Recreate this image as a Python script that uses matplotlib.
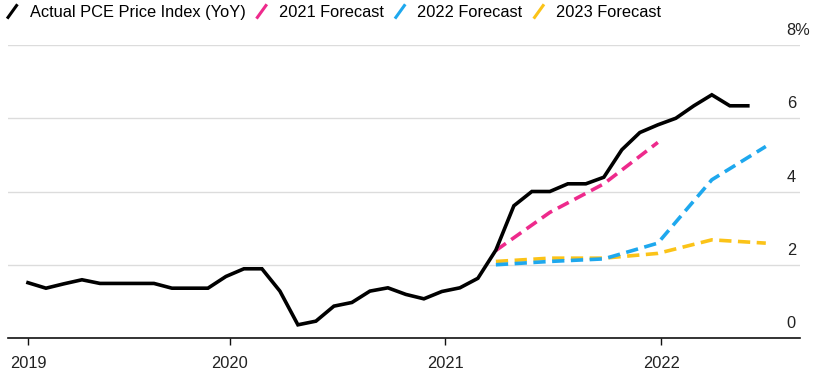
import numpy as np
import matplotlib
matplotlib.use('Agg')
import matplotlib.pyplot as plt
from matplotlib.lines import Line2D
from matplotlib.legend_handler import HandlerBase

plt.rcParams['font.family'] = ['Liberation Sans', 'DejaVu Sans']

# 月度索引：0 = 2019年1月
actual = [1.51, 1.36, 1.48, 1.59, 1.49, 1.49, 1.49, 1.49, 1.36, 1.36, 1.36, 1.68,
          1.89, 1.89, 1.28, 0.36, 0.46, 0.87, 0.97, 1.28, 1.37, 1.19, 1.07, 1.27,
          1.37, 1.63, 2.40, 3.61, 4.00, 4.00, 4.21, 4.21, 4.39, 5.14, 5.61, 5.82,
          6.00, 6.34, 6.64, 6.34, 6.34]
actual_x = np.arange(len(actual))

f2021_x = [26, 29, 32, 35]
f2021 = [2.39, 3.43, 4.21, 5.34]
f_x = [26, 29, 32, 35, 38, 41]
f2022 = [2.00, 2.09, 2.16, 2.59, 4.32, 5.23]
f2023 = [2.09, 2.18, 2.18, 2.31, 2.68, 2.59]

year_ticks = [0, 11.2, 23.2, 35.2]
year_labels = ['2019', '2020', '2021', '2022']
y_ticks = [0, 2, 4, 6, 8]
y_labels = ['0', '2', '4', '6', '8%']

black = '#000000'
pink = '#ee2a8c'
blue = '#1ea8ee'
yellow = '#fbc318'
fs = 11.8


class SlashHandler(HandlerBase):
    # 图例里用斜线代替横线
    def create_artists(self, legend, orig_handle, xdescent, ydescent,
                       width, height, fontsize, trans):
        ln = Line2D([0.15 * width, 0.85 * width], [-0.15 * height, 1.1 * height],
                    color=orig_handle.get_color(), lw=2.2,
                    solid_capstyle='butt', transform=trans)
        return [ln]


fig = plt.figure(figsize=(8.3, 3.86), dpi=100)
ax = fig.add_axes([8 / 830, 48 / 386, 792 / 830, 293 / 386])

l1, = ax.plot(actual_x, actual, color=black, lw=2.6, solid_joinstyle='miter', zorder=5)
l2, = ax.plot(f2021_x, f2021, color=pink, lw=2.6, dashes=(3.4, 1.8), zorder=4)
l4, = ax.plot(f_x, f2023, color=yellow, lw=2.6, dashes=(3.4, 1.8), zorder=3)
l3, = ax.plot(f_x, f2022, color=blue, lw=2.6, dashes=(3.4, 1.8), zorder=3)

ax.set_xlim(-1.11, 42.9)
ax.set_ylim(0, 8)

for s in ['top', 'right', 'left']:
    ax.spines[s].set_visible(False)
ax.spines['bottom'].set_linewidth(1.2)
ax.spines['bottom'].set_color('#111111')

ax.set_yticks(y_ticks)
ax.yaxis.grid(True, color='#dcdcdc', lw=1)
ax.tick_params(axis='y', length=0, labelleft=False)
ax.set_axisbelow(True)
for v, lab in zip(y_ticks, y_labels):
    ax.annotate(lab, xy=(0.985, v), xycoords=ax.get_yaxis_transform(),
                xytext=(-1, 5), textcoords='offset points',
                ha='left', va='bottom', fontsize=fs, color='#222222')

ax.set_xticks(year_ticks)
ax.set_xticklabels(year_labels)
ax.tick_params(axis='x', length=5, width=1, color='#111111', pad=8,
               labelsize=fs, labelcolor='#222222')

fig.legend([l1, l2, l3, l4],
           ['Actual PCE Price Index (YoY)', '2021 Forecast', '2022 Forecast', '2023 Forecast'],
           handler_map={Line2D: SlashHandler()},
           loc='upper left', bbox_to_anchor=(0.0, 1.0), ncol=4, frameon=False,
           fontsize=fs, handlelength=0.9, handletextpad=0.6, columnspacing=0.55,
           borderaxespad=0.15, borderpad=0.15)

fig.savefig('out.png', dpi=100)
